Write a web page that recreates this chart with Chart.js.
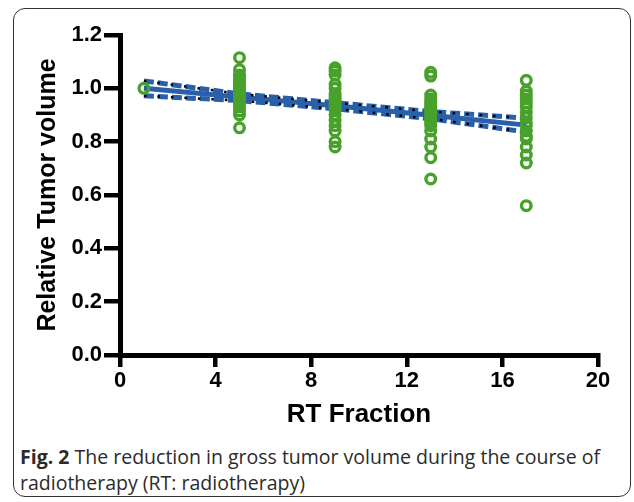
<!DOCTYPE html>
<html>
<head>
<meta charset="utf-8">
<script src="https://cdn.jsdelivr.net/npm/chart.js@4"></script>
<style>
  body { margin: 0; background: #fff; width: 634px; height: 502px; overflow: hidden; position: relative; }
  #frame { position: absolute; left: 13px; top: 8px; width: 616px; height: 487px;
           border: 1.5px solid #333; border-radius: 12px; }
  #wrap { position: absolute; left: 0; top: 0; width: 634px; height: 430px; }
  #caption { position: absolute; left: 20px; top: 444px; width: 610px;
             font-family: "Open Sans", sans-serif; font-size: 19.5px; line-height: 26px; color: #2b2b2b; }
</style>
</head>
<body>
<div id="frame"></div>
<div id="wrap"><canvas id="chart" width="634" height="430"></canvas></div>
<div id="caption"><b>Fig. 2</b> The reduction in gross tumor volume during the course of<br>radiotherapy (RT: radiotherapy)</div>
<script>
// RT fractions where volumes were measured
var fractions = [1, 5, 9, 13, 17];

// relative tumor volume per patient at each fraction
var vol1 = [1.0];
var vol5 = [1.115, 1.07, 1.05, 1.04, 1.03, 1.02, 1.01, 1.0, 0.99, 0.98, 0.97, 0.96, 0.95, 0.94, 0.93, 0.915, 0.90, 0.852];
var vol9 = [1.077, 1.065, 1.05, 1.015, 1.0, 0.98, 0.97, 0.96, 0.95, 0.94, 0.93, 0.92, 0.90, 0.88, 0.86, 0.84, 0.80, 0.78];
var vol13 = [1.06, 1.046, 0.975, 0.96, 0.95, 0.94, 0.93, 0.92, 0.91, 0.90, 0.89, 0.88, 0.87, 0.86, 0.84, 0.81, 0.78, 0.74, 0.66];
var vol17 = [1.03, 0.99, 0.975, 0.96, 0.945, 0.93, 0.91, 0.89, 0.87, 0.86, 0.84, 0.82, 0.81, 0.78, 0.75, 0.72, 0.56];

// linear fit and 95% band
var fitLine = [1.0, 0.967, 0.935, 0.899, 0.862];
var bandUpper = [1.028, 0.979, 0.946, 0.913, 0.888];
var bandLower = [0.972, 0.954, 0.923, 0.886, 0.836];

var xTicks = [0, 4, 8, 12, 16, 20];
var yTicks = [0.0, 0.2, 0.4, 0.6, 0.8, 1.0, 1.2];

var groups = [vol1, vol5, vol9, vol13, vol17];
var pts = [];
for (var i = 0; i < groups.length; i++) {
  for (var j = 0; j < groups[i].length; j++) {
    pts.push({x: fractions[i], y: groups[i][j]});
  }
}
function toXY(arr) {
  return arr.map(function(v, k) { return {x: fractions[k], y: v}; });
}

var blue = '#2a5fa9';
var tickFont = {family: 'Liberation Sans, Arial, sans-serif', size: 22, weight: 'bold'};

new Chart(document.getElementById('chart'), {
  type: 'scatter',
  data: {
    datasets: [
      {
        label: 'volume', data: pts, order: 0,
        pointStyle: 'circle', pointRadius: 4.8, pointBorderWidth: 3.4,
        borderColor: '#48a12b', backgroundColor: 'rgba(0,0,0,0)', showLine: false
      },
      { label: 'upper dots', type: 'line', data: toXY(bandUpper), order: 1, borderColor: '#000',
        borderWidth: 2.5, borderDash: [2.5, 11], pointRadius: 0, fill: false },
      { label: 'lower dots', type: 'line', data: toXY(bandLower), order: 1, borderColor: '#000',
        borderWidth: 2.5, borderDash: [2.5, 11], pointRadius: 0, fill: false },
      { label: 'fit', type: 'line', data: toXY(fitLine), order: 2, borderColor: blue,
        borderWidth: 5, pointRadius: 0, fill: false },
      { label: 'upper', type: 'line', data: toXY(bandUpper), order: 3, borderColor: blue,
        borderWidth: 5, borderDash: [10, 4], pointRadius: 0, fill: false },
      { label: 'lower', type: 'line', data: toXY(bandLower), order: 3, borderColor: blue,
        borderWidth: 5, borderDash: [10, 4], pointRadius: 0, fill: false }
    ]
  },
  options: {
    responsive: false,
    animation: false,
    layout: { padding: {left: 0, top: 35, right: 36, bottom: 0} },
    plugins: { legend: {display: false}, tooltip: {enabled: false} },
    scales: {
      x: {
        type: 'linear', min: 0, max: 20,
        afterBuildTicks: function(s) { s.ticks = xTicks.map(function(v) { return {value: v}; }); },
        afterFit: function(s) { s.height = 75; },
        grid: { drawOnChartArea: false, color: '#000', lineWidth: 4.5, tickLength: 12 },
        border: { display: true, color: '#000', width: 5 },
        ticks: { color: '#000', font: tickFont, padding: 1, maxRotation: 0 },
        title: { display: true, text: 'RT Fraction', color: '#000',
                 font: {family: 'Liberation Sans, Arial, sans-serif', size: 26, weight: 'bold'},
                 padding: {top: 0, bottom: 0} }
      },
      y: {
        min: 0, max: 1.2,
        afterBuildTicks: function(s) { s.ticks = yTicks.map(function(v) { return {value: v}; }); },
        afterFit: function(s) { s.width = 120; },
        grid: { drawOnChartArea: false, color: '#000', lineWidth: 4.5, tickLength: 16 },
        border: { display: true, color: '#000', width: 5 },
        ticks: { color: '#000', font: tickFont, padding: 2,
                 callback: function(v) { return Number(v).toFixed(1); } },
        title: { display: true, text: 'Relative Tumor volume', color: '#000',
                 font: {family: 'Liberation Sans, Arial, sans-serif', size: 25, weight: 'bold'},
                 padding: {top: 33, bottom: 0} }
      }
    }
  }
});
</script>
</body>
</html>
